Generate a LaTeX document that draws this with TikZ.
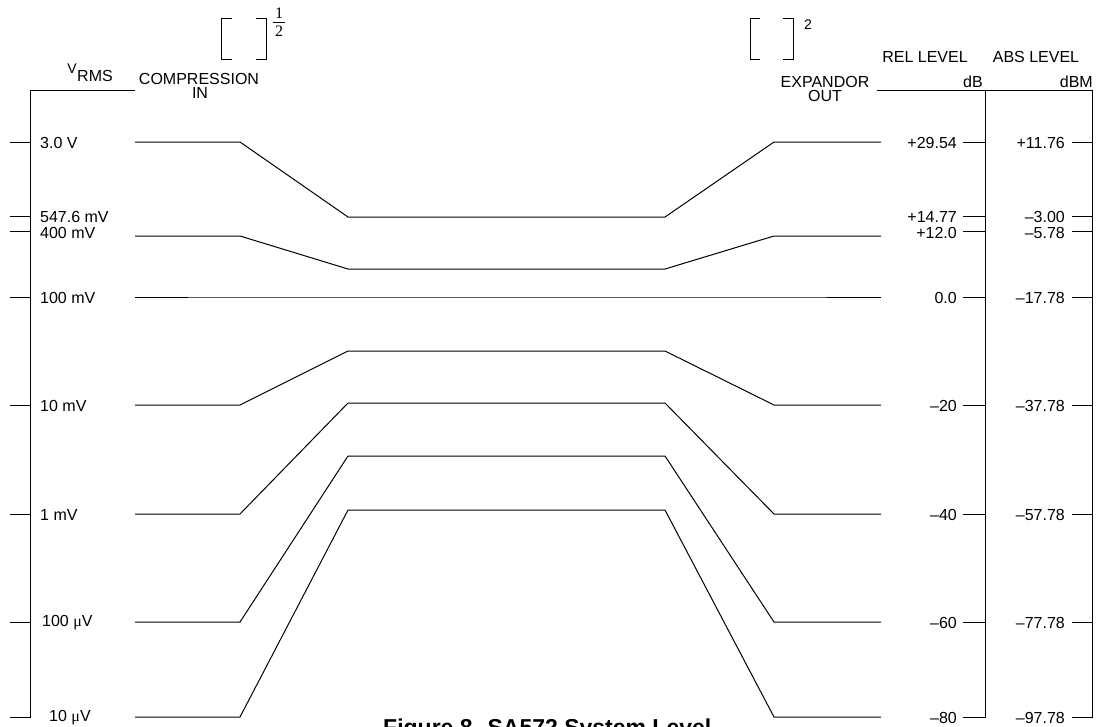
\documentclass[tikz,border=0pt]{standalone}
\usepackage{fontspec}
\setmainfont{Liberation Sans}
\newfontfamily\serifface{Liberation Serif}
\begin{document}
\begin{tikzpicture}[x=1pt,y=-1pt,
  ln/.style={line width=1pt},
  lbl/.style={font=\fontsize{16}{16}\selectfont, inner sep=0pt},
  small/.style={font=\fontsize{14}{14}\selectfont, inner sep=0pt}]
\useasboundingbox (0,0) rectangle (1097,726);
\clip (0,0) rectangle (1097,726);
% left axis
\draw[ln] (135,90) -- (30,90) -- (30,717) -- (10,717);
\foreach \y in {142,216,231,297,405,514,622} \draw[ln] (10,\y) -- (30,\y);
% right axes
\draw[ln] (877,90) -- (985,90) -- (985,717) -- (963,717);
\draw[ln] (985,90) -- (1092,90) -- (1092,717) -- (1072,717);
\foreach \y in {142,216,231,297,405,514,622} {
  \draw[ln] (963,\y) -- (985,\y);
  \draw[ln] (1072,\y) -- (1092,\y);
}
% level curves
\foreach \a/\b in {142/217, 236/269, 297/297, 405/351, 514/403, 622/456, 717/510}
  \draw[ln] (135,\a) -- (240,\a) -- (348,\b) -- (665,\b) -- (774,\a) -- (881,\a);
% left labels
\node[lbl, anchor=west] (l1) at (40,143) {3.0 V};
\node[lbl, anchor=west] (l2) at (40,217) {547.6 mV};
\node[lbl, anchor=west] (l3) at (40,233) {400 mV};
\node[lbl, anchor=west] (l4) at (40,298) {100 mV};
\node[lbl, anchor=west] (l5) at (40,406) {10 mV};
\node[lbl, anchor=west] (l6) at (40,515) {1 mV};
\node[lbl, anchor=west] (l7) at (42,623) {100 {\serifface μ}V};
\node[lbl, anchor=west] (l8) at (49,718) {10 {\serifface μ}V};
% REL labels
\node[lbl, anchor=east] (r1) at (957,143) {+29.54};
\node[lbl, anchor=east] (r2) at (957,217) {+14.77};
\node[lbl, anchor=east] (r3) at (957,233) {+12.0};
\node[lbl, anchor=east] (r4) at (957,298) {0.0};
\node[lbl, anchor=east] (r5) at (957,406) {–20};
\node[lbl, anchor=east] (r6) at (957,515) {–40};
\node[lbl, anchor=east] (r7) at (957,623) {–60};
\node[lbl, anchor=east] (r8) at (957,718) {–80};
% ABS labels
\node[lbl, anchor=east] (a1) at (1065,143) {+11.76};
\node[lbl, anchor=east] (a2) at (1065,217) {–3.00};
\node[lbl, anchor=east] (a3) at (1065,233) {–5.78};
\node[lbl, anchor=east] (a4) at (1065,298) {–17.78};
\node[lbl, anchor=east] (a5) at (1065,406) {–37.78};
\node[lbl, anchor=east] (a6) at (1065,515) {–57.78};
\node[lbl, anchor=east] (a7) at (1065,623) {–77.78};
\node[lbl, anchor=east] (a8) at (1065,718) {–97.78};
% headings
\node[lbl, anchor=base west] (vr) at (77,81) {RMS};
\node[small, anchor=base east] (vv) at (77,73) {V};
\node[lbl] (comp) at (199,79) {COMPRESSION};
\node[lbl] (cin) at (200,93) {IN};
\node[lbl] (exp) at (825,82) {EXPANDOR};
\node[lbl] (eout) at (825,96) {OUT};
\node[lbl] (rel) at (925,57) {REL LEVEL};
\node[lbl] (abs) at (1036,57) {ABS LEVEL};
\node[lbl, anchor=east] (db) at (983,82) {dB};
\node[lbl, anchor=east] (dbm) at (1093,82) {dBM};
% bracket 1
\draw[ln] (232,18) -- (221,18) -- (221,59) -- (232,59);
\draw[ln] (256,18) -- (266,18) -- (266,59) -- (256,59);
\node[font=\serifface\fontsize{16}{16}\selectfont, inner sep=0pt] (f1) at (279,13) {1};
\node[font=\serifface\fontsize{16}{16}\selectfont, inner sep=0pt] (f2) at (279,31) {2};
\draw[line width=0.8pt] (273,22) -- (285,22);
% bracket 2
\draw[ln] (760,18) -- (750,18) -- (750,59) -- (760,59);
\draw[ln] (783,18) -- (793,18) -- (793,59) -- (783,59);
\node[font=\fontsize{14}{14}\selectfont, inner sep=0pt] (sq) at (808,25) {2};
% caption
\node[font=\bfseries\fontsize{23}{23}\selectfont, inner sep=0pt, anchor=base west] (cap) at (383,735) {Figure 8. SA572 System Level};
\end{tikzpicture}
\end{document}
